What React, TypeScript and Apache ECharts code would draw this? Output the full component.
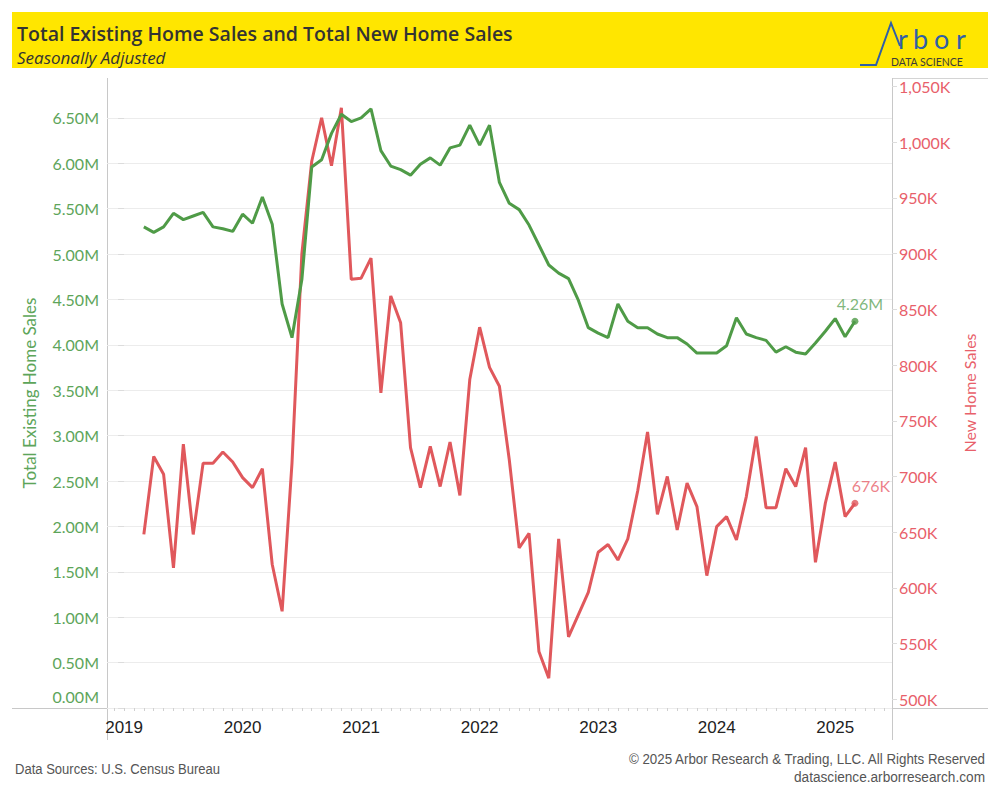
import React, { useEffect, useRef } from "react";
import * as echarts from "echarts";

// Monthly observations, Feb 2019 .. Feb 2025 (Tableau month-end dates)
const firstYear = 2019;
const firstMonth = 2;
const existingSales: number[] = [
  // 2019 Feb..Dec
  5.30, 5.24, 5.30, 5.45, 5.38, 5.42, 5.46, 5.30, 5.28, 5.25, 5.44,
  // 2020
  5.34, 5.63, 5.33, 4.45, 4.08, 4.72, 5.96, 6.04, 6.33, 6.54, 6.46, 6.50,
  // 2021
  6.60, 6.14, 5.97, 5.93, 5.87, 5.99, 6.06, 5.98, 6.17, 6.20, 6.42, 6.20,
  // 2022
  6.42, 5.79, 5.56, 5.49, 5.32, 5.10, 4.88, 4.79, 4.73, 4.49, 4.19, 4.13,
  // 2023
  4.08, 4.45, 4.26, 4.19, 4.19, 4.12, 4.08, 4.08, 4.01, 3.91, 3.91, 3.91,
  // 2024
  3.99, 4.30, 4.12, 4.08, 4.05, 3.92, 3.98, 3.92, 3.90, 4.02, 4.15, 4.29,
  // 2025
  4.09, 4.26,
];
const newSales: number[] = [
  // 2019 Feb..Dec
  648, 718, 702, 618, 729, 648, 712, 712, 722, 713, 699,
  // 2020
  690, 707, 621, 579, 712, 900, 983, 1022, 979, 1031, 877, 878,
  // 2021
  896, 775, 862, 838, 726, 690, 727, 691, 731, 683, 787, 834,
  // 2022
  798, 781, 715, 636, 649, 543, 519, 644, 556, 576, 596, 632,
  // 2023
  639, 625, 644, 687, 740, 666, 700, 652, 694, 673, 611, 655,
  // 2024
  664, 643, 682, 736, 672, 672, 707, 691, 726, 623, 676, 713,
  // 2025
  664, 676,
];
const yearLabels: number[] = [2019, 2020, 2021, 2022, 2023, 2024, 2025];
const leftTicks: number[] = [0, 0.5, 1, 1.5, 2, 2.5, 3, 3.5, 4, 4.5, 5, 5.5, 6, 6.5];
const rightTicks: number[] = [500, 550, 600, 650, 700, 750, 800, 850, 900, 950, 1000, 1050];

// x = months since 1 Jan 2019, points sit at the month's end
const monthPos = (i: number) => (firstMonth - 1) + i + 1;

const GREEN = "#4F9B47";
const GREEN_TXT = "#5DA55A";
const RED = "#E0585C";
const RED_TXT = "#E8606A";
const BLUE = "#2F5FA7";
const FONT = "Lato, 'Open Sans', sans-serif";
const HEAD = "'Open Sans', Lato, sans-serif";
const SANS = "'Liberation Sans', Arial, sans-serif";

export default function App() {
  const ref = useRef<HTMLDivElement>(null);
  useEffect(() => {
    document.body.style.margin = "0";
    const chart = echarts.init(ref.current!, undefined, { renderer: "svg" });
    const existingData = existingSales.map((v, i) => [monthPos(i), v]);
    const newData = newSales.map((v, i) => [monthPos(i), v]);
    const lastE = existingData[existingData.length - 1];
    const lastN = newData[newData.length - 1];
    const monthTicks: number[] = [];
    for (let m = -1; m <= 77; m++) monthTicks.push(m);

    chart.setOption({
      animation: false,
      backgroundColor: "#ffffff",
      grid: { left: 107, right: 108, top: 78, bottom: 92, containLabel: false },
      xAxis: {
        type: "value",
        min: -1.73,
        max: 77.75,
        axisLine: { show: false },
        splitLine: { show: false },
        axisTick: {
          show: true,
          customValues: monthTicks,
          length: 3,
          lineStyle: { color: "#d0d0d0" },
        },
        axisLabel: {
          customValues: yearLabels.map((y) => (y - firstYear) * 12),
          formatter: (v: number) => String(Math.round(firstYear + v / 12)),
          color: "#222",
          fontFamily: SANS,
          fontSize: 17,
          margin: 11,
        },
      },
      yAxis: [
        {
          type: "value",
          min: 0,
          max: 6.94,
          interval: 0.5,
          position: "left",
          name: "Total Existing Home Sales",
          nameLocation: "middle",
          nameRotate: 90,
          nameGap: 69,
          nameTextStyle: { color: GREEN_TXT, fontFamily: FONT, fontSize: 17 },
          axisLine: { show: false },
          axisTick: { show: true, customValues: leftTicks, length: 6, lineStyle: { color: "#dcdcdc" } },
          splitLine: { show: true, lineStyle: { color: "#ececec", width: 1 } },
          axisLabel: {
            customValues: leftTicks.slice(1),
            formatter: (v: number) => v.toFixed(2) + "M",
            color: GREEN_TXT,
            fontFamily: FONT,
            fontSize: 16,
            margin: 8,
          },
        },
        {
          type: "value",
          min: 492.2,
          max: 1057.7,
          position: "right",
          name: "New Home Sales",
          nameLocation: "middle",
          nameRotate: 90,
          nameGap: 66,
          nameTextStyle: { color: RED_TXT, fontFamily: FONT, fontSize: 16 },
          axisLine: { show: false },
          splitLine: { show: false },
          axisTick: { show: true, customValues: rightTicks, length: 5, lineStyle: { color: "#dcdcdc" } },
          axisLabel: {
            customValues: rightTicks,
            formatter: (v: number) => (v >= 1000 ? Math.floor(v / 1000) + "," + String(v % 1000).padStart(3, "0") : String(v)) + "K",
            color: RED_TXT,
            fontFamily: FONT,
            fontSize: 16,
            margin: 7,
          },
        },
      ],
      series: [
        {
          name: "New Home Sales",
          type: "line",
          yAxisIndex: 1,
          data: newData,
          symbol: "none",
          lineStyle: { color: RED, width: 3 },
          z: 2,
        },
        {
          name: "Total Existing Home Sales",
          type: "line",
          yAxisIndex: 0,
          data: existingData,
          symbol: "none",
          lineStyle: { color: GREEN, width: 3 },
          z: 3,
        },
        {
          type: "scatter",
          yAxisIndex: 0,
          data: [lastE],
          symbolSize: 7,
          itemStyle: { color: GREEN },
          label: {
            show: true,
            position: "top",
            distance: 6,
            offset: [5, 0],
            formatter: () => existingSales[existingSales.length - 1].toFixed(2) + "M",
            color: GREEN_TXT,
            fontFamily: FONT,
            fontSize: 16,
          },
          z: 4,
        },
        {
          type: "scatter",
          yAxisIndex: 1,
          data: [lastN],
          symbolSize: 7,
          itemStyle: { color: RED },
          label: {
            show: true,
            position: "top",
            distance: 6,
            offset: [16, 0],
            formatter: () => newSales[newSales.length - 1] + "K",
            color: RED_TXT,
            fontFamily: FONT,
            fontSize: 16,
          },
          z: 4,
        },
      ],
      graphic: [
        { type: "rect", shape: { x: 12, y: 12, width: 976, height: 56 }, style: { fill: "#FFE600" }, z: 0 },
        {
          type: "text", x: 17, y: 33,
          style: { text: "Total Existing Home Sales and Total New Home Sales", fill: "#333", font: `600 19.5px ${HEAD}`, textVerticalAlign: "middle" },
        },
        {
          type: "text", x: 17, y: 57,
          style: { text: "Seasonally Adjusted", fill: "#333", font: `italic 17px ${HEAD}`, textVerticalAlign: "middle" },
        },
        // logo
        {
          type: "polyline",
          shape: { points: [[860, 65], [876, 65], [891, 23], [900, 46]] },
          style: { stroke: BLUE, lineWidth: 2, fill: null },
        },
        { type: "text", x: 898, y: 52, style: { text: "r", fill: BLUE, font: `27px ${FONT}`, textVerticalAlign: "bottom" } },
        { type: "text", x: 913, y: 52, style: { text: "b", fill: BLUE, font: `27px ${FONT}`, textVerticalAlign: "bottom" } },
        { type: "text", x: 934, y: 52, style: { text: "o", fill: BLUE, font: `27px ${FONT}`, textVerticalAlign: "bottom" } },
        { type: "text", x: 956, y: 52, style: { text: "r", fill: BLUE, font: `27px ${FONT}`, textVerticalAlign: "bottom" } },
        {
          type: "text", x: 891, y: 62,
          style: { text: "DATA SCIENCE", fill: "#3b3b3b", font: `10.5px ${FONT}`, textVerticalAlign: "middle" },
        },
        // frame lines
        { type: "line", shape: { x1: 12, y1: 708.5, x2: 988, y2: 708.5 }, style: { stroke: "#c8c8c8", lineWidth: 1 } },
        { type: "line", shape: { x1: 892.5, y1: 78.5, x2: 988, y2: 78.5 }, style: { stroke: "#d4d4d4", lineWidth: 1 } },
        { type: "line", shape: { x1: 107.5, y1: 78, x2: 107.5, y2: 740 }, style: { stroke: "#c8c8c8", lineWidth: 1 } },
        { type: "line", shape: { x1: 892.5, y1: 78, x2: 892.5, y2: 740 }, style: { stroke: "#c8c8c8", lineWidth: 1 } },
        {
          type: "text", x: 99, y: 696,
          style: { text: "0.00M", fill: GREEN_TXT, font: `16px ${FONT}`, textAlign: "right", textVerticalAlign: "middle" },
        },
        // footer
        {
          type: "text", x: 15, y: 769, scaleX: 0.87,
          style: { text: "Data Sources: U.S. Census Bureau", fill: "#555", font: `15px ${SANS}`, textVerticalAlign: "middle" },
        },
        {
          type: "text", x: 985, y: 759, scaleX: 0.89,
          style: { text: "© 2025 Arbor Research & Trading, LLC. All Rights Reserved", fill: "#555", font: `15px ${SANS}`, textAlign: "right", textVerticalAlign: "middle" },
        },
        {
          type: "text", x: 985, y: 777, scaleX: 0.91,
          style: { text: "datascience.arborresearch.com", fill: "#555", font: `15px ${SANS}`, textAlign: "right", textVerticalAlign: "middle" },
        },
      ],
    });
    return () => chart.dispose();
  }, []);
  return <div ref={ref} style={{ width: 1000, height: 800 }} />;
}
